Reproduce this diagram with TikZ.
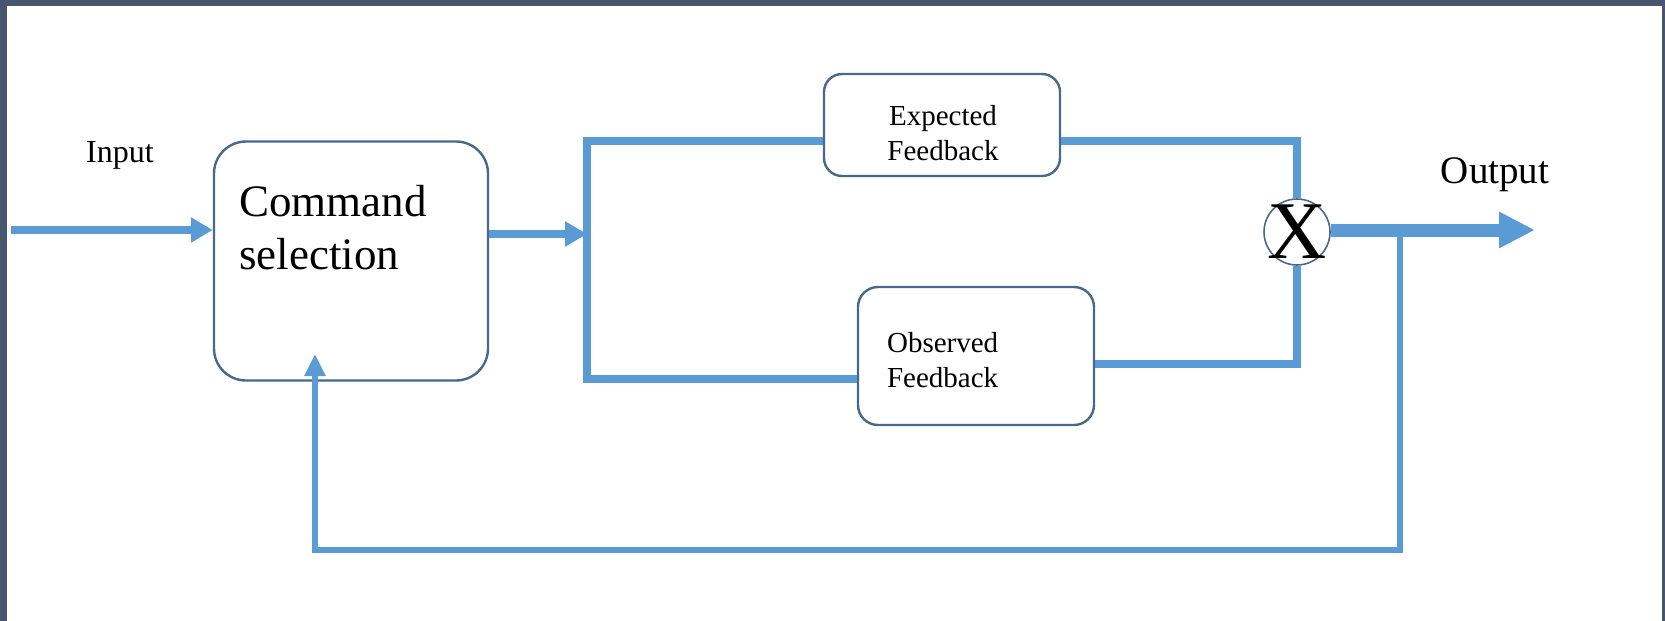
\documentclass[tikz,border=0pt]{standalone}
\usepackage{fontspec}
\setmainfont{Liberation Serif}
\usetikzlibrary{positioning, arrows.meta}
\definecolor{flowblue}{RGB}{91,155,213}
\definecolor{edgeslate}{RGB}{72,104,140}
\definecolor{framegray}{RGB}{71,86,110}

\begin{document}
\begin{tikzpicture}[x=0.5pt, y=-0.5pt,
        blockbox/.style={draw=edgeslate, line width=1.2pt, fill=white},
        flow/.style={draw=flowblue, line width=3.6pt},
        flowtip/.style={-{Triangle[length=11pt, width=12pt]}},
        lbl/.style={font=\fontsize{16}{19}\selectfont},
        fbtxt/.style={font=\fontsize{14.5}{17.5}\selectfont, align=left}
    ]

    % frame
    \fill[framegray] (0,0) rectangle (1665,621);
    \fill[white] (7,6) rectangle (1662,621);

    % blocks
    \node[blockbox, rounded corners=16pt, minimum width=137pt,
          minimum height=119.5pt] (cmd) at (351,261) {};
    \node[font=\fontsize{22.5}{26.5}\selectfont, align=left, anchor=west]
        (cmdtxt) at (232,228) {Command\\selection};

    \node[blockbox, rounded corners=9pt, minimum width=118pt,
          minimum height=51pt] (expected) at (942,125) {};
    \node[fbtxt, align=center] (exptxt) at (943,133) {Expected\\Feedback};

    \node[blockbox, rounded corners=10pt, minimum width=118pt,
          minimum height=69pt] (observed) at (976,356) {};
    \node[fbtxt, anchor=west] (obstxt) at (880,360) {Observed\\Feedback};

    % comparator
    \node[circle, draw=edgeslate, line width=0.8pt, fill=white,
          minimum size=33pt, inner sep=0pt,
          font=\fontsize{41}{41}\selectfont\bfseries] (mult) at (1297,232) {};
    \node[font=\fontsize{41}{41}\selectfont, inner sep=0pt]
        (multx) at (mult.center) {X};

    % labels
    \node[lbl] (inlbl) at (120,155) {Input};
    \node[font=\fontsize{19.5}{22}\selectfont] (outlbl) at (1495,175) {Output};

    % connectors
    \coordinate (inpt) at (11,230);
    \coordinate (bustop) at (587,141);
    \coordinate (busmid) at (587,234);
    \coordinate (busbot) at (587,379);
    \coordinate (tap) at (1400,230);
    \coordinate (fbcorner) at (1400,550);
    \coordinate (fbend) at (315,354);
    \coordinate (outtip) at (1535,230);

    \draw[flow, flowtip] (inpt) -- (inpt -| cmd.west);
    \draw[flow, flowtip] (cmd.east |- busmid) -- (busmid);
    \draw[flow] (bustop -| expected.west) -- (bustop) -- (busbot)
        -- (busbot -| observed.west);
    \draw[flow] (expected.east |- bustop) -| (mult.north);
    \draw[flow] ([yshift=-4pt]observed.east) -| (mult.south);
    \draw[flowblue, line width=6.5pt, -{Triangle[length=18pt, width=17pt]}]
        (mult.east |- outtip) -- (outtip);
    \draw[flow, line width=3pt, -{Triangle[length=11pt, width=10pt]}]
        (tap) -- (fbcorner) -| (fbend);

\end{tikzpicture}
\end{document}
